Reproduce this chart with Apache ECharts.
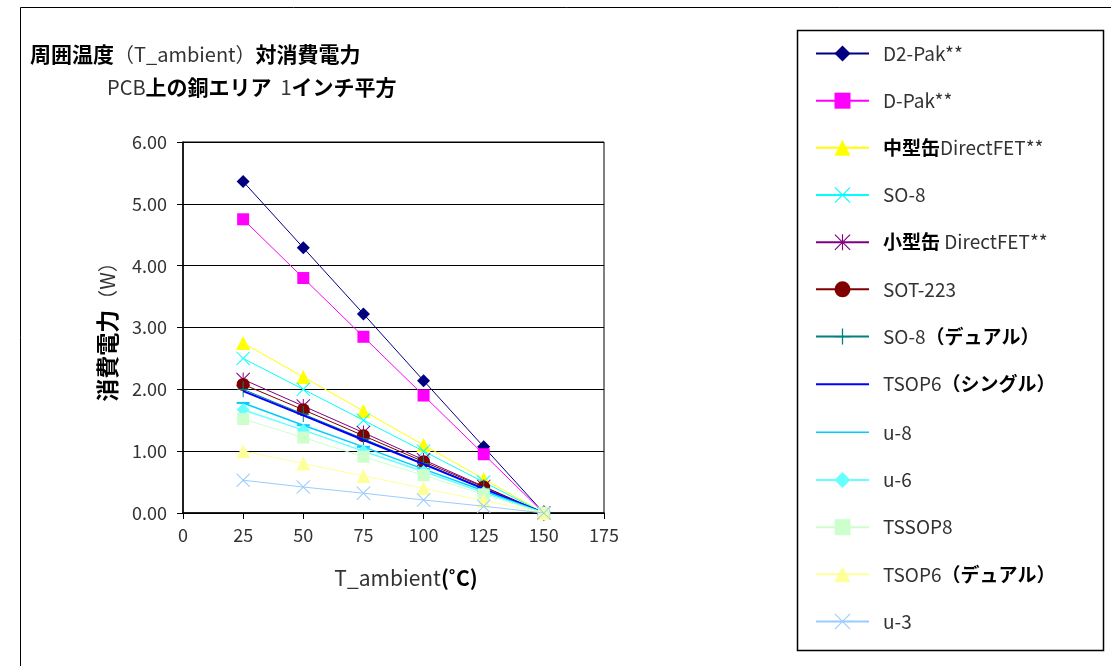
<!DOCTYPE html>
<html>
<head>
<meta charset="utf-8">
<script src="https://cdn.jsdelivr.net/npm/echarts@6/dist/echarts.min.js"></script>
<style>
  html, body { margin: 0; padding: 0; background: #fff; }
  #chart { width: 1111px; height: 666px; }
</style>
</head>
<body>
<div id="chart"></div>
<script>
// Ambient temperature (°C)
const temps = [25, 50, 75, 100, 125, 150];

// Power dissipation (W) per package
const d2pak      = [5.36, 4.29, 3.22, 2.14, 1.07, 0];
const dpak       = [4.75, 3.80, 2.85, 1.90, 0.95, 0];
const mediumCan  = [2.75, 2.20, 1.65, 1.10, 0.55, 0];
const so8        = [2.50, 2.00, 1.50, 1.00, 0.50, 0];
const smallCan   = [2.16, 1.73, 1.30, 0.86, 0.43, 0];
const sot223     = [2.08, 1.67, 1.25, 0.83, 0.42, 0];
const so8Dual    = [2.00, 1.60, 1.20, 0.80, 0.40, 0];
const tsop6      = [1.97, 1.58, 1.18, 0.79, 0.39, 0];
const u8         = [1.78, 1.42, 1.07, 0.71, 0.36, 0];
const u6         = [1.67, 1.34, 1.00, 0.67, 0.33, 0];
const tssop8     = [1.52, 1.22, 0.91, 0.61, 0.30, 0];
const tsop6Dual  = [1.00, 0.80, 0.60, 0.40, 0.20, 0];
const u3         = [0.53, 0.42, 0.32, 0.21, 0.11, 0];

const seriesNames = [
  'D2-Pak**', 'D-Pak**', '中型缶DirectFET**', 'SO-8', '小型缶 DirectFET**', 'SOT-223',
  'SO-8（デュアル）', 'TSOP6（シングル）', 'u-8', 'u-6', 'TSSOP8', 'TSOP6（デュアル）', 'u-3'
];
const seriesValues = [d2pak, dpak, mediumCan, so8, smallCan, sot223, so8Dual, tsop6, u8, u6, tssop8, tsop6Dual, u3];

// Marker shapes drawn as filled outlines
const X_PATH = 'path://M0,1L1,0L10,9L19,0L20,1L11,10L20,19L19,20L10,11L1,20L0,19L9,10Z';
const PLUS_PATH = 'path://M9.2,0H10.8V9.2H20V10.8H10.8V20H9.2V10.8H0V9.2H9.2Z';
const STAR_PATH = 'path://M0,1L1,0L10,9L19,0L20,1L11,10L20,19L19,20L10,11L1,20L0,19L9,10ZM9.3,0H10.7V20H9.3Z';
// Plain line legend icons (corner specks keep the box at full item size)
const LINE_ICON_2 = 'path://M0,0H0.01V0.01H0ZM53,20H52.99V19.99H53ZM0,9H53V11H0Z';
const LINE_ICON_15 = 'path://M0,0H0.01V0.01H0ZM53,20H52.99V19.99H53ZM0,9.25H53V10.75H0Z';

const styles = [
  { color: '#000080', symbol: 'diamond',  size: 13, width: 1 },
  { color: '#FF00FF', symbol: 'rect',     size: 12, width: 1 },
  { color: '#FFFF00', symbol: 'triangle', size: 14, width: 1 },
  { color: '#00FFFF', symbol: X_PATH,     size: 14, width: 1 },
  { color: '#800080', symbol: STAR_PATH,  size: 14, width: 1 },
  { color: '#800000', symbol: 'circle',   size: 13, width: 1 },
  { color: '#008080', symbol: PLUS_PATH,  size: [12, 16], width: 1 },
  { color: '#0000FF', symbol: 'none',     size: 0,  width: 2, icon: LINE_ICON_2 },
  { color: '#00CCFF', symbol: 'rect',     size: [13, 2], width: 1.5, icon: LINE_ICON_15 },
  { color: '#66FFFF', symbol: 'diamond',  size: 13, width: 1.5 },
  { color: '#CCFFCC', symbol: 'rect',     size: 12, width: 1 },
  { color: '#FFFF99', symbol: 'triangle', size: 14, width: 1 },
  { color: '#99CCFF', symbol: X_PATH,     size: 14, width: 1 }
];

const CJK = /[\u3000-\u9fff\uff00-\uffef]/;
function toRich(s) {
  return s.match(/[\u3000-\u9fff\uff00-\uffef]+|[^\u3000-\u9fff\uff00-\uffef]+/g)
    .map(r => CJK.test(r) ? '{jp|' + r + '}' : '{lat|' + r + '}').join('');
}

const FONT = '"Noto Sans CJK JP", sans-serif';

const series = seriesNames.map((name, i) => ({
  name: name,
  type: 'line',
  data: temps.map((t, j) => [t, seriesValues[i][j]]),
  symbol: styles[i].symbol,
  symbolSize: styles[i].size,
  showSymbol: styles[i].symbol !== 'none',
  lineStyle: { color: styles[i].color, width: styles[i].width },
  itemStyle: { color: styles[i].color },
  emphasis: { disabled: true },
  animation: false,
  z: 3 + i
}));

const legendData = seriesNames.map((name, i) =>
  styles[i].icon ? { name: name, icon: styles[i].icon } : { name: name });

const titleRich = {
  jp:  { fontFamily: FONT, fontWeight: 'bold', fontSize: 21, color: '#000', verticalAlign: 'middle', lineHeight: 26 },
  lat: { fontFamily: FONT, fontWeight: 'normal', fontSize: 20, color: '#333', verticalAlign: 'middle', lineHeight: 26 }
};

const chart = echarts.init(document.getElementById('chart'), null, { renderer: 'canvas' });

chart.setOption({
  backgroundColor: '#fff',
  animation: false,
  title: [
    {
      text: '{jp|周囲温度}{lat|（T_ambient）}{jp|対消費電力}',
      left: 30, top: 41, padding: 0,
      textStyle: { rich: titleRich }
    },
    {
      text: '{lat|PCB}{jp|上の銅エリア}{lat|  1}{jp|インチ平方}',
      left: 107, top: 74, padding: 0,
      textStyle: { rich: titleRich }
    }
  ],
  grid: {
    left: 183, right: 507, top: 142, bottom: 153,
    show: true, borderColor: '#000', borderWidth: 1, backgroundColor: '#fff'
  },
  xAxis: {
    type: 'value', min: 0, max: 175, interval: 25,
    axisLine: { show: true, lineStyle: { color: '#000', width: 1.5 } },
    axisTick: { show: true, length: 6, lineStyle: { color: '#000' } },
    axisLabel: { margin: 13, fontFamily: FONT, fontSize: 18, color: '#333' },
    splitLine: { show: false }
  },
  yAxis: {
    type: 'value', min: 0, max: 6, interval: 1,
    axisLine: { show: true, lineStyle: { color: '#000', width: 1.5 } },
    axisTick: { show: true, length: 6, lineStyle: { color: '#000' } },
    axisLabel: { margin: 16, fontFamily: FONT, fontSize: 18, color: '#333', formatter: v => v.toFixed(2) },
    splitLine: { show: true, lineStyle: { color: '#000', width: 1 } }
  },
  legend: {
    orient: 'vertical',
    left: 815, top: 44, padding: 0,
    itemWidth: 53, itemHeight: 20, itemGap: 28.17,
    data: legendData,
    formatter: name => toRich(name),
    selectedMode: false,
    textStyle: {
      padding: [0, 0, 0, 9],
      lineHeight: 18,
      rich: {
        jp:  { fontFamily: FONT, fontWeight: 'bold', fontSize: 19, color: '#000', lineHeight: 18, verticalAlign: 'middle' },
        lat: { fontFamily: FONT, fontWeight: 'normal', fontSize: 19, color: '#333', lineHeight: 18, verticalAlign: 'middle' }
      }
    }
  },
  graphic: [
    {
      type: 'rect', silent: true, z: -1,
      shape: { x: 20.5, y: 7.5, width: 1200, height: 700 },
      style: { fill: 'none', stroke: '#000', lineWidth: 1 }
    },
    {
      type: 'rect', silent: true,
      shape: { x: 797.5, y: 30.5, width: 306, height: 620 },
      style: { fill: 'none', stroke: '#000', lineWidth: 1.5 }
    },
    {
      type: 'text', silent: true,
      x: 107, y: 327, rotation: Math.PI / 2,
      style: {
        text: '{jp|消費電力}{lat|（W）}',
        align: 'center', verticalAlign: 'middle',
        rich: {
          jp:  { fontFamily: FONT, fontWeight: 'bold', fontSize: 23, fill: '#000', verticalAlign: 'middle', lineHeight: 28 },
          lat: { fontFamily: FONT, fontWeight: 'normal', fontSize: 20, fill: '#333', verticalAlign: 'middle', lineHeight: 28 }
        }
      }
    },
    {
      type: 'text', silent: true,
      x: 406, y: 578,
      style: {
        text: '{lat|T_ambient}{bold|(˚C)}',
        align: 'center', verticalAlign: 'middle',
        rich: {
          bold: { fontFamily: FONT, fontWeight: 'bold', fontSize: 21, fill: '#000', verticalAlign: 'middle', lineHeight: 26 },
          lat:  { fontFamily: FONT, fontWeight: 'normal', fontSize: 21, fill: '#333', verticalAlign: 'middle', lineHeight: 26 }
        }
      }
    }
  ],
  series: series
});
</script>
</body>
</html>
